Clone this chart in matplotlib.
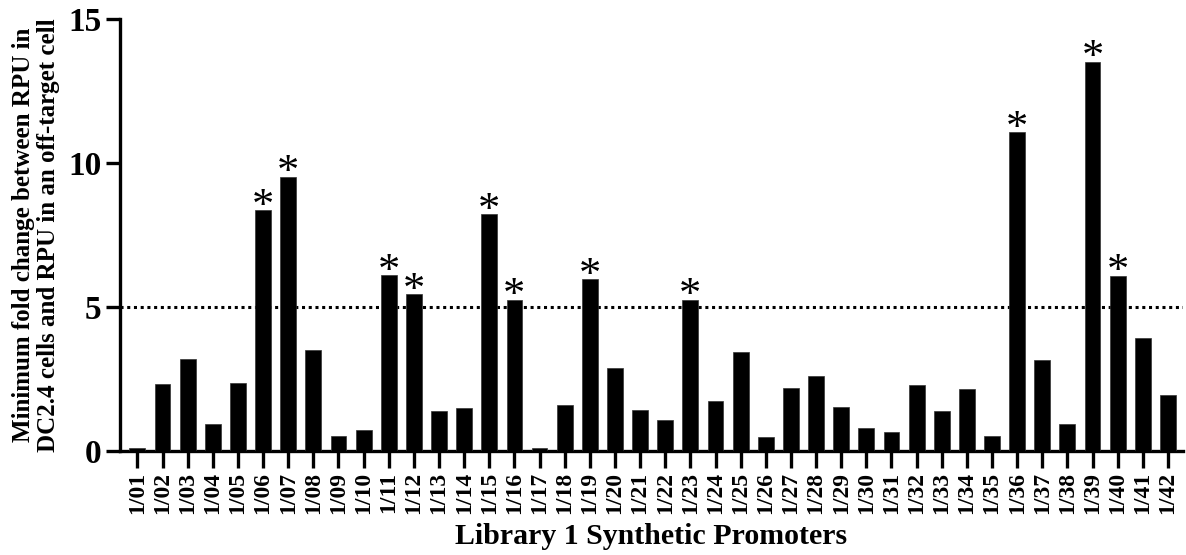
import numpy as np
import matplotlib
matplotlib.use("Agg")
import matplotlib.pyplot as plt

plt.rcParams["font.family"] = ["Liberation Serif", "DejaVu Serif"]
plt.rcParams["font.weight"] = "bold"

promoters = [f"1/{i:02d}" for i in range(1, 43)]
fold_change = [
    0.1, 2.32, 3.2, 0.95, 2.38, 8.36, 9.52, 3.51, 0.52, 0.72,
    6.1, 5.45, 1.39, 1.51, 8.22, 5.26, 0.12, 1.62, 5.98, 2.87,
    1.42, 1.07, 5.26, 1.73, 3.43, 0.5, 2.18, 2.62, 1.54, 0.8,
    0.67, 2.28, 1.38, 2.17, 0.53, 11.07, 3.16, 0.95, 13.52, 6.09,
    3.93, 1.96,
]
starred = ["1/06", "1/07", "1/11", "1/12", "1/15", "1/16", "1/19", "1/23",
           "1/36", "1/39", "1/40"]
threshold = 5

fig = plt.figure(figsize=(11.86, 5.55), dpi=100)
ax = fig.add_axes([0.101, 0.187, 0.8965, 0.779])

x = np.arange(len(promoters))
ax.bar(x, fold_change, width=0.63, color="black", edgecolor="#333333",
       linewidth=0.5, zorder=3)

ax.axhline(threshold, color="black", linestyle=(0, (1.0, 1.2)), linewidth=2.2,
           zorder=2)

# asterisks above significant bars
for name, val in zip(promoters, fold_change):
    if name in starred:
        ax.annotate("*", (promoters.index(name), val), xytext=(0, -12),
                    textcoords="offset points", ha="center", va="bottom",
                    fontsize=32, fontweight="normal", zorder=4)

ax.set_xlim(-0.7, 41.6)
ax.set_ylim(0, 15)
ax.set_yticks([0, 5, 10, 15])
ax.set_xticks(x)
ax.set_xticklabels(promoters, rotation=90, fontsize=17, fontweight="bold")
ax.tick_params(axis="y", labelsize=24, width=2.4, length=10, pad=3)
ax.tick_params(axis="x", width=2.4, length=12, pad=3)
for lab in ax.get_yticklabels():
    lab.set_fontweight("bold")

for side in ["top", "right"]:
    ax.spines[side].set_visible(False)
for side in ["left", "bottom"]:
    ax.spines[side].set_linewidth(2.4)

ax.set_ylabel("Minimum fold change between RPU in\nDC2.4 cells and RPU in an off-target cell",
              fontsize=18, fontweight="bold", labelpad=6, linespacing=1.1)
ax.set_xlabel("Library 1 Synthetic Promoters", fontsize=21.5, fontweight="bold",
              labelpad=6)

fig.savefig("out.png", dpi=100)
